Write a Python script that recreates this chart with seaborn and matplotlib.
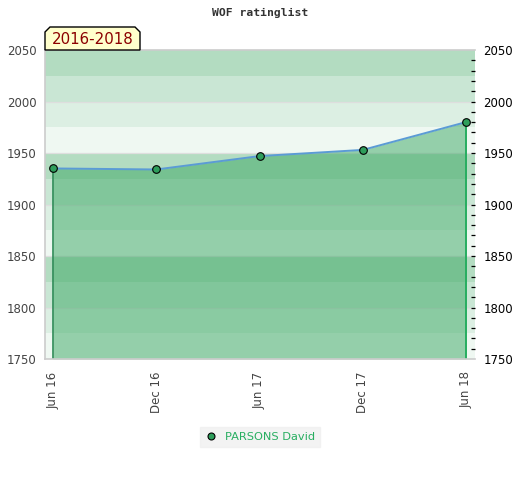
import matplotlib
matplotlib.use("Agg")
import matplotlib.pyplot as plt
from matplotlib.patches import Polygon
from matplotlib.lines import Line2D
import seaborn as sns
import pandas as pd
import numpy as np

# ---- data ----
periods = ["Jun 16", "Dec 16", "Jun 17", "Dec 17", "Jun 18"]
ratings = [1935, 1934, 1947, 1953, 1980]
player = "PARSONS David"
title = "WOF ratinglist"
span_label = "2016-2018"
y_ticks = [1750, 1800, 1850, 1900, 1950, 2000, 2050]

df = pd.DataFrame({"pos": range(len(periods)), "rating": ratings})

sns.set_theme(style="white")
plt.rcParams['font.family'] = ['DejaVu Sans']

fig = plt.figure(figsize=(5.2, 4.8), dpi=100)
ax = fig.add_axes([45/520, 1-359/480, 430/520, 309/480])

ymin, ymax = 1750, 2050
band_cols = ['#b3dcc1', '#c9e6d4', '#dcefe3', '#eff8f2']
tops = np.arange(ymax, ymin, -25)
for i, t in enumerate(tops):
    ax.axhspan(t - 25, t, color=band_cols[i % 4], lw=0, zorder=0)

for yt in y_ticks[1:-1]:
    ax.axhline(yt, color='#dedede', lw=0.9, zorder=0.5)

x = df["pos"].to_numpy()
y = df["rating"].to_numpy()
ax.fill_between(x, y, ymin, color='#3aa863', alpha=0.5, lw=0, zorder=1)
ax.plot([x[0], x[0]], [ymin, y[0]], color='#2e8b57', lw=1.2, zorder=2)
ax.plot([x[-1], x[-1]], [ymin, y[-1]], color='#27ae60', lw=1.4, zorder=2)

sns.lineplot(data=df, x="pos", y="rating", ax=ax, color='#5b9bd5', lw=1.4,
             marker='o', markersize=5.5, markerfacecolor='#2e9e5b',
             markeredgecolor='black', markeredgewidth=0.8, zorder=3,
             legend=False)

ax.set_xlim(-0.0775, 4.087)
ax.set_ylim(ymin, ymax)
ax.set_xlabel("")
ax.set_ylabel("")
ax.set_xticks(x)
ax.set_xticklabels(periods, rotation=90, fontsize=8.5, color='#444444')
ax.set_yticks(y_ticks)
ax.set_yticklabels([str(v) for v in y_ticks], fontsize=8.5, color='#444444')
ax.tick_params(axis='y', length=0, pad=6)
ax.tick_params(axis='x', length=0, pad=9)
for s in ['top', 'left', 'bottom']:
    ax.spines[s].set_color('#cccccc')
    ax.spines[s].set_linewidth(1.2)
ax.spines['right'].set_visible(False)
ax.grid(False)

ax2 = ax.twinx()
ax2.set_ylim(ymin, ymax)
ax2.set_yticks(y_ticks)
ax2.set_yticklabels([str(v) for v in y_ticks], fontsize=8.5, color='black')
ax2.yaxis.remove_overlapping_locs = False
ax2.set_yticks(np.arange(ymin + 10, ymax, 10), minor=True)
ax2.tick_params(axis='y', which='major', length=0, pad=6)
ax2.tick_params(axis='y', which='minor', direction='in', length=3,
                width=0.9, color='black')
for s in ax2.spines.values():
    s.set_visible(False)
ax2.grid(False)

fig.text(0.5, 1-13/480, title, ha='center', va='center',
         family='DejaVu Sans Mono', fontweight='bold', fontsize=8.2, color='#333333')

pts = [(45, 50), (45, 32), (50, 27), (135, 27), (140, 32), (140, 50)]
poly = Polygon([(px/520, 1-py/480) for px, py in pts], closed=True,
               transform=fig.transFigure, facecolor='#ffffcc',
               edgecolor='black', lw=1, zorder=5)
fig.patches.append(poly)
fig.text(92.5/520, 1-39.5/480, span_label, ha='center', va='center',
         fontsize=10.8, color='#8b0000', zorder=6)

handle = Line2D([], [], ls='none', marker='o', markersize=5,
                markerfacecolor='#2e9e5b', markeredgecolor='black',
                markeredgewidth=0.8)
leg = fig.legend([handle], [player], loc='center', bbox_to_anchor=(260/520, 1-437/480),
                 frameon=True, fontsize=8.2, handlelength=1, handletextpad=0.7,
                 borderpad=0.45, fancybox=False)
leg.get_frame().set_facecolor('#f0f0f0')
leg.get_frame().set_edgecolor('#f0f0f0')
for t in leg.get_texts():
    t.set_color('#27ae60')

fig.savefig("out.png", dpi=100)
